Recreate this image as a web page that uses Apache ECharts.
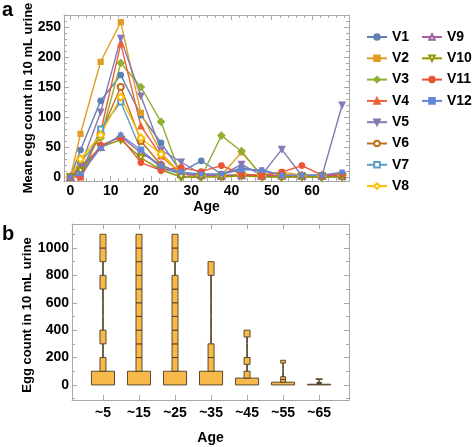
<!DOCTYPE html>
<html><head><meta charset="utf-8">
<script src="https://cdn.jsdelivr.net/npm/echarts@6/dist/echarts.min.js"></script>
<style>html,body{margin:0;padding:0;background:#fff}#c{width:472px;height:447px}</style>
</head><body><div id="c"></div>
<script>
// ---------- Panel a data ----------
const ages = [0, 2.5, 7.5, 12.5, 17.5, 22.5, 27.5, 32.5, 37.5, 42.5, 47.5, 52.5, 57.5, 62.5, 67.5];
const V1  = [0, 45, 127, 170, 103, 57, 8, 27, 5, 15, 10, 3, 3, 3, 5];
const V2  = [0, 72, 192, 258, 107, 40, 5, 3, 3, 41, 3, 8, 3, 3, 3];
const V3  = [0, 25, 65, 190, 150, 92, 0, 0, 69, 43, 2, 0, 0, 0, 0];
const V4  = [0, 0, 75, 222, 85, 35, 5, 3, 2, 3, 2, 3, 2, 2, 2];
const V5  = [0, 18, 108, 231, 135, 45, 25, 5, 3, 21, 3, 46, 2, 2, 120];
const V6  = [0, 10, 73, 150, 60, 20, 5, 3, 2, 3, 2, 3, 2, 2, 3];
const V7  = [0, 5, 80, 125, 45, 15, 5, 3, 2, 5, 2, 2, 2, 2, 3];
const V8  = [0, 30, 70, 133, 65, 38, 5, 3, 2, 4, 2, 5, 2, 2, 3];
const V9  = [0, 15, 50, 68, 40, 20, 5, 3, 2, 3, 2, 2, 2, 2, 2];
const V10 = [0, 10, 50, 62, 32, 12, 0, 0, 0, 2, 0, 0, 0, 0, 0];
const V11 = [0, 0, 53, 66, 24, 11, 16, 9, 19, 5, 2, 8, 19, 3, 5];
const V12 = [0, 5, 48, 70, 45, 18, 8, 5, 5, 12, 12, 3, 3, 3, 8];
const seriesNames = ['V1','V2','V3','V4','V5','V6','V7','V8','V9','V10','V11','V12'];
const seriesValues = [V1,V2,V3,V4,V5,V6,V7,V8,V9,V10,V11,V12];
const xTicksA = [0, 10, 20, 30, 40, 50, 60];
const yTicksA = [0, 50, 100, 150, 200, 250];

// ---------- Panel b data ----------
const ageGroups = ['~5', '~15', '~25', '~35', '~45', '~55', '~65'];
const binSize = [100, 100, 100, 100, 50, 20, 5];
const binCounts = [
  [23, 6, 0, 6, 0, 0, 0, 6, 0, 6, 6],
  [23, 6, 6, 6, 6, 6, 6, 6, 6, 6, 6],
  [23, 6, 6, 6, 6, 6, 6, 6, 0, 6, 6],
  [23, 6, 6, 0, 0, 0, 0, 0, 6],
  [23, 6, 0, 6, 0, 0, 0, 6],
  [24, 5, 5, 0, 0, 0, 0, 0, 5],
  [22, 4, 4, 4, 0, 0, 0, 0, 6]
];
const yTicksB = [0, 200, 400, 600, 800, 1000];

// ---------- styles ----------
const colors = ['#5E81B5','#E19C24','#8FB032','#EB6235','#8778B3','#C56E1A','#5D9EC7','#FFBF00','#A5609D','#929600','#E95536','#6685D9'];
const symbols = ['circle','rect','diamond','triangle','triangle','emptyCircle','emptyRect','emptyDiamond','emptyTriangle','emptyTriangle','circle','rect'];
const rotates = [0,0,0,0,180,0,0,0,0,180,0,0];
const sizes = [5.5,5,7,6,6,6,5,7,6,6,5.5,4];
const FONT = 'Liberation Sans, Arial, sans-serif';
const FRAME = '#a8a8a8';

function range(a, b, s) { const r = []; for (let v = a; v <= b + 1e-9; v += s) r.push(+v.toFixed(6)); return r; }

function frameAxes(gridIndex, dim, min, max, majors, minors, labelOpt, nameOpt) {
  const isX = dim === 'x';
  const pos = isX ? ['bottom', 'top'] : ['left', 'right'];
  const out = [];
  pos.forEach((p, i) => {
    out.push(Object.assign({
      type: 'value', gridIndex, position: p, min, max,
      axisLine: { show: true, onZero: false, lineStyle: { color: FRAME, width: 1 } },
      axisTick: { show: true, inside: true, length: 5, customValues: majors, lineStyle: { color: FRAME } },
      axisLabel: i === 0 ? Object.assign({ show: true, customValues: majors, color: '#000', fontFamily: FONT, fontWeight: 'bold', fontSize: 14, formatter: v => String(v) }, labelOpt) : { show: false },
      splitLine: { show: false }
    }, i === 0 ? (nameOpt || {}) : {}));
    if (minors) {
      out.push({
        type: 'value', gridIndex, position: p, min, max,
        axisLine: { show: false, onZero: false },
        axisTick: { show: true, inside: true, length: 3, customValues: minors, lineStyle: { color: FRAME } },
        axisLabel: { show: false }, splitLine: { show: false }
      });
    }
  });
  return out;
}

const nameStyle = { color: '#000', fontFamily: FONT, fontWeight: 'bold', fontSize: 14 };
const xAxes = [].concat(
  frameAxes(0, 'x', -1.6, 69.2, xTicksA, range(0, 68, 2), { margin: 3 },
    { name: 'Age', nameLocation: 'middle', nameGap: 19, nameTextStyle: nameStyle }),
  frameAxes(1, 'x', 0.14, 7.83, [1,2,3,4,5,6,7], null,
    { margin: 6, formatter: v => ageGroups[Math.round(v) - 1] },
    { name: 'Age', nameLocation: 'middle', nameGap: 31, nameTextStyle: nameStyle })
);
const nXA = frameAxes(0, 'x', 0, 1, [0], range(0, 68, 2)).length;
const yAxes = [].concat(
  frameAxes(0, 'y', -6.7, 270, yTicksA, range(0, 270, 10), { margin: 3 }),
  frameAxes(1, 'y', -110, 1175, yTicksB, range(-100, 1100, 100), { margin: 3 })
);
const nYA = frameAxes(0, 'y', 0, 1, [0], [0]).length;

const lineSeries = seriesNames.map((n, i) => ({
  name: n, type: 'line', xAxisIndex: 0, yAxisIndex: 0,
  data: ages.map((a, k) => [a, seriesValues[i][k]]),
  symbol: symbols[i], symbolRotate: rotates[i], symbolSize: sizes[i], showSymbol: true,
  itemStyle: { color: colors[i], borderColor: colors[i], borderWidth: 1.2 },
  lineStyle: { color: colors[i], width: 1.4 },
  emphasis: { disabled: true }, animation: false
}));

const binData = [];
binCounts.forEach((arr, g) => {
  const mx = Math.max.apply(null, arr);
  arr.forEach((c, k) => binData.push([g + 1, k * binSize[g], (k + 1) * binSize[g], c, mx]));
});

const FILL = '#F8B94B', STROKE = '#4a3a22';
const customSeries = {
  type: 'custom', xAxisIndex: nXA, yAxisIndex: nYA, animation: false,
  data: binData,
  renderItem: function (params, api) {
    const x = api.value(0), lo = api.value(1), hi = api.value(2), c = api.value(3), mx = api.value(4);
    const p0 = api.coord([x, lo]), p1 = api.coord([x, hi]);
    const band = api.size([1, 0])[0];
    if (c <= 0) {
      return { type: 'line', shape: { x1: p0[0], y1: p0[1], x2: p1[0], y2: p1[1] }, style: { stroke: STROKE, lineWidth: 1.6 } };
    }
    const w = band * 0.64 * c / mx;
    return { type: 'rect', shape: { x: p0[0] - w / 2, y: p1[1], width: w, height: Math.max(p0[1] - p1[1], 0.5) },
      style: { fill: FILL, stroke: STROKE, lineWidth: 0.9 } };
  }
};

const legendText = { color: '#000', fontFamily: FONT, fontWeight: 'bold', fontSize: 14, lineHeight: 14 };
const chart = echarts.init(document.getElementById('c'), null, { renderer: 'canvas' });
chart.setOption({
  backgroundColor: '#fff',
  animation: false,
  grid: [
    { left: 64, top: 15, width: 285, height: 166 },
    { left: 72, top: 224, width: 277, height: 176 }
  ],
  xAxis: xAxes,
  yAxis: yAxes,
  legend: [
    { data: seriesNames.slice(0, 8), orient: 'vertical', left: 361, top: 25, itemWidth: 20, itemHeight: 7, itemGap: 7.3, textStyle: legendText },
    { data: seriesNames.slice(8), orient: 'vertical', left: 416, top: 25, itemWidth: 20, itemHeight: 7, itemGap: 7.3, textStyle: legendText }
  ],
  graphic: [
    { type: 'text', left: 2, top: 0, style: { text: 'a', font: 'bold 20px ' + FONT, fill: '#000' } },
    { type: 'text', left: 2, top: 224, style: { text: 'b', font: 'bold 20px ' + FONT, fill: '#000' } },
    { type: 'text', x: 28, y: 98, rotation: Math.PI / 2, style: { text: 'Mean egg count in 10 mL urine', font: 'bold 13px ' + FONT, fill: '#000', align: 'center', verticalAlign: 'middle' } },
    { type: 'text', x: 27, y: 315, rotation: Math.PI / 2, style: { text: 'Egg count in 10 mL urine', font: 'bold 13px ' + FONT, fill: '#000', align: 'center', verticalAlign: 'middle' } }
  ],
  series: lineSeries.concat([customSeries])
});
</script></body></html>
